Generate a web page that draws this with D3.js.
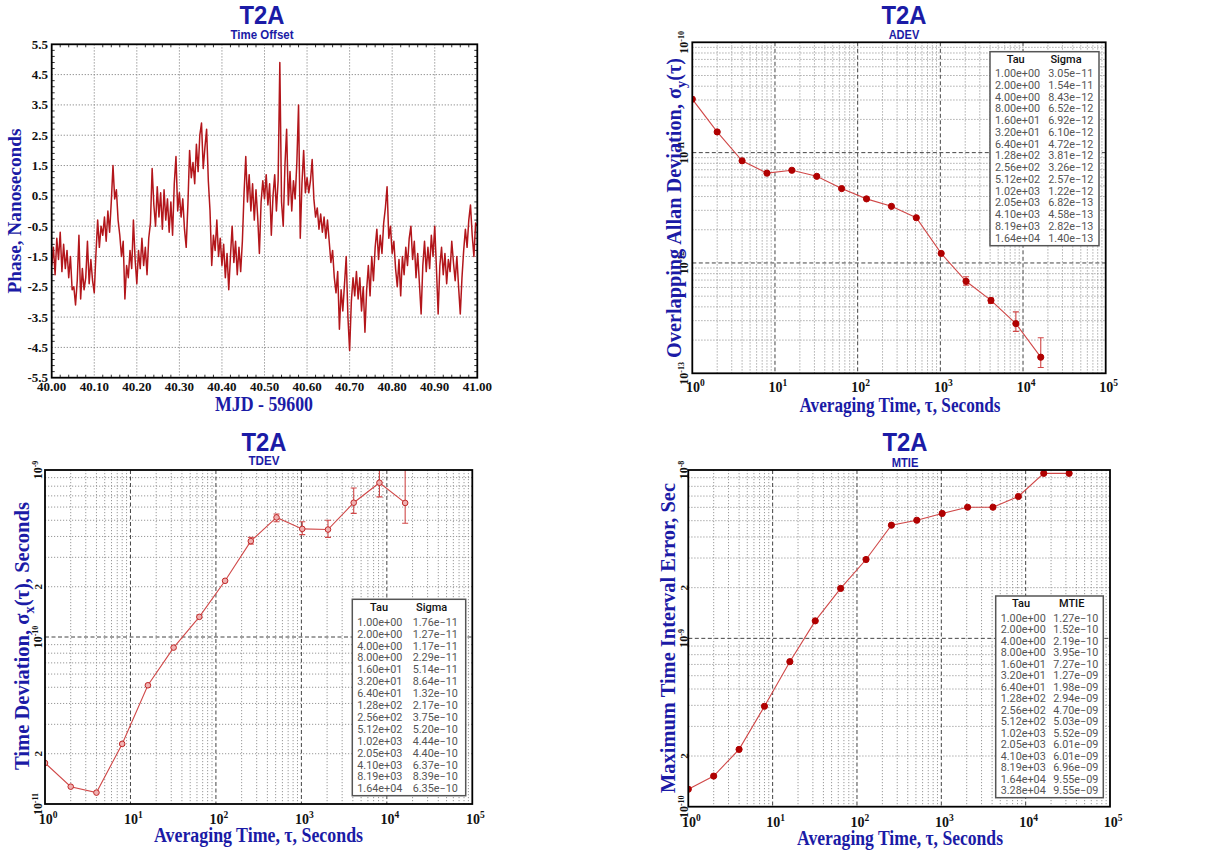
<!DOCTYPE html>
<html>
<head>
<meta charset="utf-8">
<script src="https://cdn.jsdelivr.net/npm/d3@7"></script>
<style>
  body { margin: 0; background: #fff; }
  svg { display: block; }
</style>
</head>
<body>
<svg id="chart" width="1214" height="852"></svg>
<script>
// ---- data ----
// phase samples, one every 0.004 MJD starting at 40.000
var phaseStart = 40.0;
var phaseStep = 0.004;
var phaseValues = [
  -1.8, -1.2, -2.1, -0.9, -1.6, -0.7, -2.0, -1.1, -1.9, -1.3,
  -2.2, -1.5, -2.6, -2.5, -3.1, -2.3, -0.8, -2.9, -1.9, -2.6,
  -2.2, -1.0, -2.4, -1.6, -2.3, -2.7, -1.4, -0.3, -1.2, -0.5,
  -0.8, -0.2, -1.0, 0.0, -0.7, 0.3, 1.5, 0.4, 0.7, -0.3,
  -0.8, -1.5, -1.0, -2.9, -1.8, -2.2, -1.3, -1.9, -0.3, -1.6,
  -2.4, -1.3, -1.9, -0.9, -1.8, -1.2, -2.1, -0.9, -0.4, 1.4,
  0.2, -0.5, 0.8, -0.2, 0.6, -0.6, 0.7, -0.3, 0.4, -0.7,
  0.3, -0.8, 0.9, 1.8, 0.0, 0.6, -0.2, 0.4, -0.6, -1.2,
  0.2, 2.0, 1.1, 1.6, 0.9, 2.2, 1.3, 2.5, 2.9, 1.4,
  2.1, 2.7, 1.0, 0.0, -1.8, -0.8, -1.3, -0.3, -1.5, -0.9,
  -1.8, -1.1, -2.2, -1.4, -2.6, -1.5, -0.5, -1.7, -1.0, -2.1,
  -1.2, -2.0, -1.0, 0.6, 1.8, 0.3, 1.2, 0.0, 0.9, -0.3,
  0.7, -0.2, -1.4, 0.3, 1.0, 0.4, 1.2, 0.2, 0.9, -0.8,
  0.5, 1.2, 0.0, 1.0, 4.9, 0.3, -0.5, 1.5, 2.7, 0.2,
  1.3, 0.0, 1.0, 0.4, 1.6, 3.5, -0.9, 0.9, 2.0, 0.6,
  1.1, 0.6, 1.0, 1.7, 0.4, -0.2, 0.1, -0.6, -0.1, -0.7,
  -0.2, -0.9, -0.3, -1.0, -1.7, -1.3, -2.2, -2.7, -2.0, -3.9,
  -2.6, -3.3, -2.4, -1.5, -3.5, -4.6, -3.0, -2.2, -2.8, -2.0,
  -2.9, -2.2, -3.3, -2.5, -4.0, -2.6, -1.8, -2.8, -1.5, -2.3,
  -1.2, -0.6, -1.6, -0.8, -1.4, -0.4, 0.1, 0.8, -0.9, -0.5,
  -1.4, -1.0, -1.9, -2.5, -1.6, -2.8, -1.5, -2.1, -1.2, -1.8,
  -0.9, -0.5, -1.6, -1.0, -2.2, -1.4, -2.4, -3.4, -1.8, -1.0,
  -2.0, -1.2, -1.9, -0.8, -1.5, -0.5, -1.9, -3.4, -1.8, -1.2,
  -2.1, -1.4, -2.4, -1.6, -2.0, -1.0, -1.7, -2.3, -1.5, -2.5,
  -3.4, -2.2, -1.3, -0.6, -1.2, -0.3, 0.2, -0.8, -1.5, -0.4,
  -0.5
];

var adevTau = [1, 2, 4, 8, 16, 32, 64, 128, 256, 512, 1024, 2048, 4096, 8192, 16384];
var adevSigma = [3.05e-11, 1.54e-11, 8.43e-12, 6.52e-12, 6.92e-12, 6.10e-12, 4.72e-12, 3.81e-12,
  3.26e-12, 2.57e-12, 1.22e-12, 6.82e-13, 4.58e-13, 2.82e-13, 1.40e-13];
var adevErrHi = [null, null, null, null, null, null, null, null, null, null, null, 7.5e-13, 4.8e-13, 3.6e-13, 2.1e-13];
var adevErrLo = [null, null, null, null, null, null, null, null, null, null, null, 6.3e-13, 4.3e-13, 2.4e-13, 1.13e-13];

var tdevTau = [1, 2, 4, 8, 16, 32, 64, 128, 256, 512, 1024, 2048, 4096, 8192, 16384];
var tdevSigma = [1.76e-11, 1.27e-11, 1.17e-11, 2.29e-11, 5.14e-11, 8.64e-11, 1.32e-10, 2.17e-10,
  3.75e-10, 5.20e-10, 4.44e-10, 4.40e-10, 6.37e-10, 8.39e-10, 6.35e-10];
var tdevErrHi = [null, null, null, null, null, null, null, null, 3.95e-10, 5.45e-10, 4.9e-10, 5.0e-10, 7.8e-10, 1.05e-9, 1.2e-9];
var tdevErrLo = [null, null, null, null, null, null, null, null, 3.6e-10, 4.9e-10, 4.1e-10, 3.95e-10, 5.5e-10, 6.9e-10, 4.8e-10];

var mtieTau = [1, 2, 4, 8, 16, 32, 64, 128, 256, 512, 1024, 2048, 4096, 8192, 16384, 32768];
var mtieValue = [1.27e-10, 1.52e-10, 2.19e-10, 3.95e-10, 7.27e-10, 1.27e-9, 1.98e-9, 2.94e-9,
  4.70e-9, 5.03e-9, 5.52e-9, 6.01e-9, 6.01e-9, 6.96e-9, 9.55e-9, 9.55e-9];

// ---- drawing ----
var svg = d3.select("#chart");
var blue = "#1b1ba6";
var serif = "'Liberation Serif', 'Times New Roman', serif";
var sans = "'Liberation Sans', Arial, sans-serif";
var red = "#d04848";
var dark = "#b00000";

var fmt = v => v.toExponential(2).replace(/e([+-])(\d+)$/, (m, s, e) => "e" + s + (e.length < 2 ? "0" + e : e)).replace("-", "\u2212");

var addTitle = (cx, y1, y2, sub, subW) => {
  svg.append("text").attr("x", cx).attr("y", y1).attr("text-anchor", "middle")
    .attr("font-family", sans).attr("font-weight", "bold").attr("font-size", 26)
    .attr("fill", blue).attr("textLength", 45).attr("lengthAdjust", "spacingAndGlyphs").text("T2A");
  svg.append("text").attr("x", cx).attr("y", y2).attr("text-anchor", "middle")
    .attr("font-family", sans).attr("font-weight", "bold").attr("font-size", 12.5)
    .attr("fill", blue).attr("textLength", subW).attr("lengthAdjust", "spacingAndGlyphs").text(sub);
};

// axis title; parts = [[text, "sub"|"back"|null], ...]
var axisTitle = (x, y, rotate, parts, len, size) => {
  var t = svg.append("text").attr("class", "atitle")
    .attr("transform", `translate(${x},${y})` + (rotate ? " rotate(-90)" : ""))
    .attr("text-anchor", "middle").attr("font-family", serif).attr("font-weight", "bold")
    .attr("font-size", size).attr("fill", blue)
    .attr("textLength", len).attr("lengthAdjust", "spacingAndGlyphs");
  parts.forEach(p => {
    var ts = t.append("tspan").text(p[0]);
    if (p[1] == "sub") ts.attr("font-size", size * 0.7).attr("dy", 5);
    if (p[1] == "back") ts.attr("dy", -5);
  });
};

// ---------- panel 1: time offset ----------
(function () {
  var p = {left: 51.7, right: 477.3, top: 44.3, bottom: 377.7};
  var x = d3.scaleLinear().domain([40, 41]).range([p.left, p.right]);
  var y = d3.scaleLinear().domain([-5.5, 5.5]).range([p.bottom, p.top]);
  var g = svg.append("g");

  var xMajor = d3.range(0, 11).map(i => 40 + i / 10);
  var yMajor = d3.range(0, 12).map(i => -5.5 + i);
  var xMinor = d3.range(1, 50).filter(i => i % 5 != 0).map(i => 40 + i / 50);
  var yMinor = d3.range(1, 55).filter(i => i % 5 != 0).map(i => -5.5 + i / 5);

  g.selectAll(".vg").data(xMajor.slice(1, -1)).join("line").attr("class", "vg")
    .attr("x1", d => x(d)).attr("x2", d => x(d)).attr("y1", p.top).attr("y2", p.bottom)
    .attr("stroke", "#888").attr("stroke-dasharray", "1.2,1.8");
  g.selectAll(".hg").data(yMajor.slice(1, -1)).join("line").attr("class", "hg")
    .attr("y1", d => y(d)).attr("y2", d => y(d)).attr("x1", p.left).attr("x2", p.right)
    .attr("stroke", "#888").attr("stroke-dasharray", "1.2,1.8");

  // small ticks along the frame
  xMinor.forEach(d => {
    g.append("line").attr("x1", x(d)).attr("x2", x(d)).attr("y1", p.bottom).attr("y2", p.bottom - 3).attr("stroke", "#333");
    g.append("line").attr("x1", x(d)).attr("x2", x(d)).attr("y1", p.top).attr("y2", p.top + 3).attr("stroke", "#333");
  });
  yMinor.forEach(d => {
    g.append("line").attr("y1", y(d)).attr("y2", y(d)).attr("x1", p.left).attr("x2", p.left + 3).attr("stroke", "#333");
    g.append("line").attr("y1", y(d)).attr("y2", y(d)).attr("x1", p.right).attr("x2", p.right - 3).attr("stroke", "#333");
  });

  var pts = phaseValues.map((v, i) => [phaseStart + i * phaseStep, v]);
  g.append("path").datum(pts).attr("fill", "none").attr("stroke", "#b3161b").attr("stroke-width", 1.5)
    .attr("stroke-linejoin", "round")
    .attr("d", d3.line().x(d => x(d[0])).y(d => y(d[1])));

  g.append("rect").attr("x", p.left).attr("y", p.top).attr("width", p.right - p.left).attr("height", p.bottom - p.top)
    .attr("fill", "none").attr("stroke", "#000").attr("stroke-width", 1.8);

  g.selectAll(".xl").data(xMajor).join("text").attr("class", "xl")
    .attr("x", d => x(d)).attr("y", 391).attr("text-anchor", "middle")
    .attr("font-family", serif).attr("font-weight", "bold").attr("font-size", 13).attr("fill", "#111")
    .text(d => d.toFixed(2));
  g.selectAll(".yl").data(yMajor).join("text").attr("class", "yl")
    .attr("x", 48).attr("y", d => y(d)).attr("dy", "0.35em").attr("text-anchor", "end")
    .attr("font-family", serif).attr("font-weight", "bold").attr("font-size", 13).attr("fill", "#111")
    .text(d => d.toFixed(1));

  addTitle(262, 24, 39, "Time Offset", 63);
  axisTitle(264, 410.5, false, [["MJD  -  59600", null]], 98, 20);
  axisTitle(20.5, 211, true, [["Phase,  Nanoseconds", null]], 165, 19);
})();

// ---------- log-log panels ----------
var logPanel = (c) => {
  var g = svg.append("g");
  var x = d3.scaleLog().domain([1, 1e5]).range([c.left, c.right]);
  var y = d3.scaleLog().domain(c.yDomain).range([c.bottom, c.top]);
  var isDecade = d => Math.abs(Math.log10(d) - Math.round(Math.log10(d))) < 1e-9;

  var clipId = "clip" + c.id;
  svg.append("clipPath").attr("id", clipId).append("rect")
    .attr("x", c.left).attr("y", c.top).attr("width", c.right - c.left).attr("height", c.bottom - c.top);

  var xt = x.ticks().filter(d => d > 1 && d < 1e5);
  var yt = y.ticks().filter(d => d > c.yDomain[0] * 1.0001 && d < c.yDomain[1] * 0.9999);

  g.selectAll(".vmin").data(xt.filter(d => !isDecade(d))).join("line").attr("class", "vmin")
    .attr("x1", d => x(d)).attr("x2", d => x(d)).attr("y1", c.top).attr("y2", c.bottom)
    .attr("stroke", "#999").attr("stroke-dasharray", "1.2,1.8");
  g.selectAll(".hmin").data(yt.filter(d => !isDecade(d))).join("line").attr("class", "hmin")
    .attr("y1", d => y(d)).attr("y2", d => y(d)).attr("x1", c.left).attr("x2", c.right)
    .attr("stroke", "#999").attr("stroke-dasharray", "1.2,1.8");
  g.selectAll(".vmaj").data(xt.filter(isDecade)).join("line").attr("class", "vmaj")
    .attr("x1", d => x(d)).attr("x2", d => x(d)).attr("y1", c.top).attr("y2", c.bottom)
    .attr("stroke", "#444").attr("stroke-dasharray", "4,2.5");
  g.selectAll(".hmaj").data(yt.filter(isDecade)).join("line").attr("class", "hmaj")
    .attr("y1", d => y(d)).attr("y2", d => y(d)).attr("x1", c.left).attr("x2", c.right)
    .attr("stroke", "#444").attr("stroke-dasharray", "4,2.5");

  var data = c.tau.map((t, i) => ({t: t, v: c.vals[i], hi: c.hi ? c.hi[i] : null, lo: c.lo ? c.lo[i] : null}));
  var plot = g.append("g").attr("clip-path", `url(#${clipId})`);
  plot.append("path").datum(data).attr("fill", "none").attr("stroke", red).attr("stroke-width", 1.1)
    .attr("d", d3.line().x(d => x(d.t)).y(d => y(d.v)));

  var eb = data.filter(d => d.hi != null);
  plot.selectAll(".eb").data(eb).join("line").attr("class", "eb")
    .attr("x1", d => x(d.t)).attr("x2", d => x(d.t)).attr("y1", d => y(d.hi)).attr("y2", d => y(d.lo))
    .attr("stroke", red).attr("stroke-width", 1.1);
  ["hi", "lo"].forEach(k => {
    plot.selectAll(".cap" + k).data(eb).join("line").attr("class", "cap" + k)
      .attr("x1", d => x(d.t) - 3).attr("x2", d => x(d.t) + 3).attr("y1", d => y(d[k])).attr("y2", d => y(d[k]))
      .attr("stroke", red).attr("stroke-width", 1.1);
  });

  plot.selectAll(".pt").data(data).join("circle").attr("class", "pt")
    .attr("cx", d => x(d.t)).attr("cy", d => y(d.v)).attr("r", c.hollow ? 2.8 : 3.1)
    .attr("fill", c.hollow ? "#f0b0b0" : dark).attr("stroke", c.hollow ? "#c02828" : dark).attr("stroke-width", 1);

  g.append("rect").attr("x", c.left).attr("y", c.top).attr("width", c.right - c.left).attr("height", c.bottom - c.top)
    .attr("fill", "none").attr("stroke", "#000").attr("stroke-width", 1.8);

  // x tick labels 10^n
  var xl = g.selectAll(".xl").data(d3.range(0, 6)).join("text").attr("class", "xl")
    .attr("x", d => x(Math.pow(10, d)) + 3).attr("y", c.xTickY).attr("text-anchor", "middle")
    .attr("font-family", serif).attr("font-weight", "bold").attr("font-size", 14).attr("fill", "#111");
  xl.append("tspan").text("10");
  xl.append("tspan").attr("dy", -6).attr("font-size", 9.5).text(d => d);

  // y tick labels, rotated
  var lo = Math.round(Math.log10(c.yDomain[0])), hi = Math.round(Math.log10(c.yDomain[1]));
  var yl = g.selectAll(".yl").data(d3.range(lo, hi + 1)).join("text").attr("class", "yl ytl")
    .attr("transform", d => `translate(${c.yTickX},${y(Math.pow(10, d))}) rotate(-90)`)
    .attr("text-anchor", "middle")
    .attr("font-family", serif).attr("font-weight", "bold").attr("font-size", 12).attr("fill", "#111");
  yl.append("tspan").text("10");
  yl.append("tspan").attr("dy", -4.5).attr("font-size", 8).text(d => "-" + Math.abs(d));
  if (c.twos) {
    g.selectAll(".y2").data(d3.range(lo, hi)).join("text").attr("class", "y2 ytl")
      .attr("transform", d => `translate(${c.yTickX},${y(2 * Math.pow(10, d))}) rotate(-90)`)
      .attr("text-anchor", "middle")
      .attr("font-family", serif).attr("font-weight", "bold").attr("font-size", 11).attr("fill", "#111")
      .text("2");
  }

  // table
  var L = c.legend;
  var lg = g.append("g");
  lg.append("rect").attr("x", L.x).attr("y", L.y).attr("width", L.w).attr("height", L.h)
    .attr("fill", "#fff").attr("stroke", "#555").attr("stroke-width", 1.5);
  lg.selectAll(".hd").data([["Tau", L.c1], [L.head, L.c2]]).join("text").attr("class", "hd")
    .attr("x", d => d[1]).attr("y", L.hy + 4).attr("text-anchor", "middle")
    .attr("font-family", "Roboto, sans-serif").attr("font-weight", 500).attr("font-size", 11).attr("fill", "#111")
    .text(d => d[0]);
  var rows = c.tau.map((t, i) => [fmt(t), fmt(c.vals[i])]);
  lg.selectAll(".r1").data(rows).join("text").attr("class", "r1")
    .attr("x", L.x1).attr("y", (d, i) => L.ry + i * L.step + 4)
    .attr("font-family", "Roboto, sans-serif").attr("font-size", 10.8).attr("fill", "#555")
    .text(d => d[0]);
  lg.selectAll(".r2").data(rows).join("text").attr("class", "r2")
    .attr("x", L.x2).attr("y", (d, i) => L.ry + i * L.step + 4)
    .attr("font-family", "Roboto, sans-serif").attr("font-size", 10.8).attr("fill", "#555")
    .text(d => d[1]);
};

// ADEV
logPanel({
  id: "adev", left: 692.3, right: 1105.7, top: 42.3, bottom: 373.3,
  yDomain: [1e-13, 1e-10], tau: adevTau, vals: adevSigma, hi: adevErrHi, lo: adevErrLo,
  xTickY: 392, yTickX: 688, twos: false, hollow: false,
  legend: {x: 990, y: 51.7, w: 109, h: 194, hy: 59, ry: 73, step: 11.76, c1: 1015.7, c2: 1066, x1: 995, x2: 1048.3, head: "Sigma"}
});
addTitle(904, 24, 38.5, "ADEV", 30.7);
axisTitle(900, 411.5, false, [["Averaging  Time,  \u03c4,  Seconds", null]], 201, 20);
axisTitle(681, 208, true, [["Overlapping  Allan  Deviation,  \u03c3", null], ["y", "sub"], ["(\u03c4)", "back"]], 300, 22);

// TDEV
logPanel({
  id: "tdev", left: 45, right: 472.3, top: 470, bottom: 804,
  yDomain: [1e-11, 1e-9], tau: tdevTau, vals: tdevSigma, hi: tdevErrHi, lo: tdevErrLo,
  xTickY: 824, yTickX: 42, twos: true, hollow: true,
  legend: {x: 352.3, y: 599.3, w: 113.4, h: 196.4, hy: 607.3, ry: 621.7, step: 11.9, c1: 379, c2: 431.7, x1: 357.3, x2: 412.7, head: "Sigma"}
});
addTitle(264, 450.7, 465, "TDEV", 31);
axisTitle(258.5, 842, false, [["Averaging  Time,  \u03c4,  Seconds", null]], 209, 20);
axisTitle(28.5, 636, true, [["Time  Deviation,  \u03c3", null], ["x", "sub"], ["(\u03c4),  Seconds", "back"]], 268, 20);

// MTIE
logPanel({
  id: "mtie", left: 688.3, right: 1110, top: 470, bottom: 806.7,
  yDomain: [1e-10, 1e-8], tau: mtieTau, vals: mtieValue,
  xTickY: 827, yTickX: 688, twos: true, hollow: false,
  legend: {x: 995.7, y: 596, w: 107.6, h: 201.7, hy: 603.3, ry: 617.7, step: 11.5, c1: 1021, c2: 1071.7, x1: 1000.7, x2: 1053.3, head: "MTIE"}
});
addTitle(905, 450.7, 466.7, "MTIE", 26.7);
axisTitle(900, 845, false, [["Averaging  Time,  \u03c4,  Seconds", null]], 206, 20);
axisTitle(675, 638, true, [["Maximum  Time  Interval  Error,  Sec", null]], 310, 21);

// tick labels sit on top of the axis titles, as in the original
svg.selectAll(".ytl").raise();
</script>
</body>
</html>
